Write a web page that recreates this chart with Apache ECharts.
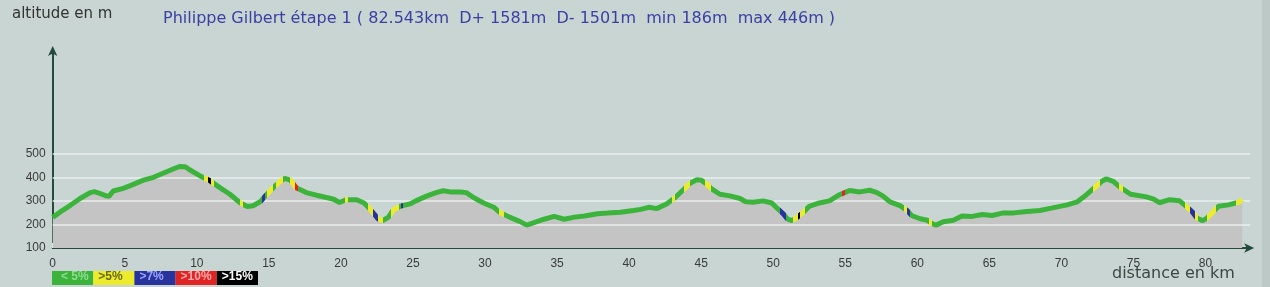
<!DOCTYPE html>
<html><head><meta charset="utf-8">
<script src="https://cdn.jsdelivr.net/npm/echarts@6/dist/echarts.min.js"></script>
<style>html,body{margin:0;padding:0;background:#c8d5d2;}#c{width:1270px;height:287px;}</style>
</head><body><div id="c"></div>
<script>
// distance (km)
const dist = [0,0.5,1.2,1.9,2.6,2.9,3.3,3.7,3.9,4.2,4.9,5.6,6.3,7.0,7.7,8.4,8.8,9.2,9.5,10.2,10.9,11.6,12.3,13.0,13.5,13.9,14.4,14.8,15.3,15.8,16.1,16.5,16.9,17.6,18.3,19.0,19.5,19.9,20.4,21.1,21.6,21.9,22.3,22.6,22.9,23.3,23.6,24.1,24.8,25.2,25.9,26.6,27.1,27.6,28.3,28.7,29.2,29.9,30.6,31.0,31.7,32.4,32.9,33.4,34.1,34.8,35.5,36.2,36.9,37.8,38.5,39.4,40.3,40.8,41.4,41.9,42.6,43.2,43.8,44.2,44.7,45.0,45.4,45.7,46.3,47.0,47.7,48.1,48.6,49.3,49.9,50.2,50.7,51.0,51.3,51.6,52.1,52.5,53.2,53.9,54.6,55.0,55.3,56.0,56.7,57.2,57.6,58.1,58.8,59.3,59.6,60.2,60.7,61.0,61.3,61.8,62.5,63.1,63.8,64.5,65.2,65.9,66.7,67.6,68.5,69.3,70.4,71.1,71.7,72.3,72.8,73.1,73.6,74.1,74.8,75.5,75.9,76.4,76.8,77.5,78.2,78.6,79.1,79.4,79.8,80.1,80.5,80.9,81.6,82.3,82.543];
// altitude (m)
const alt = [230,252,280,310,335,339,331,321,319,342,353,370,388,400,418,436,446,445,432,407,386,356,328,292,276,279,296,324,356,383,395,388,356,335,324,314,307,293,305,305,291,273,245,222,216,231,259,277,287,300,319,335,343,338,338,335,314,291,273,252,231,213,197,208,222,234,222,231,236,245,248,252,259,264,273,267,287,314,349,374,390,388,370,352,328,321,310,296,294,300,291,273,245,222,216,227,252,277,291,300,326,336,344,338,345,335,321,296,280,259,238,224,218,204,197,211,218,236,234,242,238,248,249,255,259,269,283,296,324,356,383,393,383,356,328,321,317,307,292,305,300,280,252,227,216,227,252,277,283,294,305];
// slope segments: [from km, to km, class] 1: >5%, 2: >7%, 3: >10%, 4: >15%
const slopeSegments = [[10.5,10.8,1],[10.8,11.0,4],[11.0,11.2,1],[13.0,13.2,1],[14.5,14.7,2],[14.9,15.3,1],[15.5,16.0,1],[16.5,16.8,1],[16.8,17.0,3],[20.3,20.5,1],[21.9,22.2,1],[22.2,22.6,2],[22.6,22.9,1],[23.5,24.0,1],[24.2,24.3,2],[31.0,31.3,1],[43.0,43.2,1],[43.8,44.2,1],[45.3,45.7,1],[50.5,50.9,2],[51.4,51.7,1],[51.7,51.85,4],[51.85,52.2,1],[54.8,55.0,3],[59.1,59.3,1],[59.3,59.5,2],[60.8,61.0,1],[72.2,72.7,1],[74.0,74.3,1],[78.6,78.9,1],[78.9,79.3,2],[79.3,79.5,1],[80.1,80.7,1],[82.1,82.6,1]];
const legendLabels = ['< 5%','>5%','>7%','>10%','>15%'];
const gridValues = [200,300,400,500];

const slopeColors = ['#3cb43c','#ecec2c','#28349c','#e02424','#000000'];
const legendText = ['#8fdc8f','#6a6a1c','#9aa4ff','#ffaaaa','#ffffff'];
const data = dist.map((d,i)=>[d,alt[i]]);

const chart = echarts.init(document.getElementById('c'));
const legendGraphics = [];
legendLabels.forEach((t,i)=>{
  legendGraphics.push({type:'rect',left:52+i*41.2,top:271,shape:{width:41.2,height:14},style:{fill:slopeColors[i]},silent:true});
  legendGraphics.push({type:'text',left:52+i*41.2+(i===0?9:5),top:271,style:{text:t,fill:legendText[i],font:'bold 12px Arial'},silent:true});
});

chart.setOption({
  backgroundColor:'#c8d5d2',
  animation:false,
  grid:{left:52.7,right:19.8,top:50,bottom:39},
  xAxis:{type:'value',min:0,max:83.1,interval:5,
    axisLine:{lineStyle:{color:'#234a3c',width:2},symbol:['none','arrow'],symbolSize:[7,10],symbolOffset:[0,4]},
    axisTick:{inside:true,length:5,lineStyle:{color:'#eef3f2',width:1}},
    axisLabel:{color:'#3a3a3a',fontSize:12,fontFamily:'Arial',margin:10,showMaxLabel:false,formatter:v=>(v%5===0?String(v):'')},
    splitLine:{show:false}},
  yAxis:{type:'value',min:100,max:940,interval:100,
    axisLine:{show:true,lineStyle:{color:'#234a3c',width:2},symbol:['none','arrow'],symbolSize:[7,10],symbolOffset:[0,4]},
    axisTick:{show:false},
    axisLabel:{color:'#3a3a3a',fontSize:12,fontFamily:'Arial',margin:7,formatter:v=>(v<=500?String(v):'')},
    splitLine:{show:false}},
  visualMap:{show:false,type:'piecewise',dimension:0,seriesIndex:1,
    pieces:slopeSegments.map(s=>({gte:s[0],lt:s[1],color:slopeColors[s[2]]})),
    outOfRange:{color:slopeColors[0]}},
  graphic:[
    {type:'rect',left:1262,top:0,shape:{width:8,height:287},style:{fill:'#bdc9c6'},silent:true},
    {type:'text',left:12,top:7,style:{text:'altitude en m',fill:'#333333',font:'15px "DejaVu Sans"'}},
    {type:'text',left:163,top:11,style:{text:'Philippe Gilbert étape 1 ( 82.543km  D+ 1581m  D- 1501m  min 186m  max 446m )',fill:'#3c40a4',font:'16px "DejaVu Sans"'}},
    {type:'text',left:1112,top:266,style:{text:'distance en km',fill:'#3c4744',font:'16px "DejaVu Sans"'}},
    ...legendGraphics
  ],
  series:[
    {type:'line',data:data,symbol:'none',lineStyle:{width:0},areaStyle:{color:'#c4c4c4',opacity:1},z:2,
      markLine:{silent:true,symbol:'none',label:{show:false},lineStyle:{color:'#e9efee',width:1.5,type:'solid'},
        data:gridValues.map(v=>({yAxis:v}))}},
    {type:'line',data:data,symbol:'none',lineStyle:{width:5},z:10}
  ]
});
</script></body></html>
